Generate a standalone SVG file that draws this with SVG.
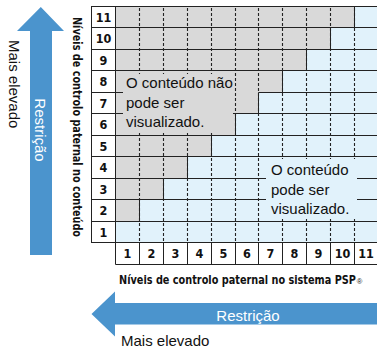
<svg xmlns="http://www.w3.org/2000/svg" width="377" height="348" viewBox="0 0 377 348">
<style>
.arrow{fill:#4b94cd}
.gray{fill:#d9d9d9}
.blue{fill:#e1f2fb}
.solid{stroke:#222;stroke-width:1;fill:none}
.dash{stroke:#222;stroke-width:1.1;stroke-dasharray:3 2;fill:none}
.num{font-family:"Liberation Sans Narrow","DejaVu Sans Condensed","Liberation Sans",sans-serif;font-weight:bold;font-size:12.5px;fill:#111;text-anchor:middle}
.lbl{font-family:"Liberation Sans Narrow","DejaVu Sans Condensed","Liberation Sans",sans-serif;font-weight:bold;font-size:11.5px;fill:#111}
.txt{font-family:"Liberation Sans",Arial,sans-serif;font-size:15px;fill:#111}
.wtxt{font-family:"Liberation Sans",Arial,sans-serif;font-size:15px;fill:#fff}
</style>

<g id="arrow-left">
<polygon class="arrow" points="40.8,7 64,31 52,31 52,255 30,255 30,31 17,31"/>
<text class="wtxt" transform="translate(35,130) rotate(90)" text-anchor="middle">Restrição</text>
<text class="txt" transform="translate(9,40) rotate(90)">Mais elevado</text>
</g>

<g id="axis-label-y">
<text class="lbl" transform="translate(72.5,127) rotate(90)" text-anchor="middle" textLength="220" lengthAdjust="spacingAndGlyphs">Níveis de controlo paternal no conteúdo</text>
</g>

<g id="grid">
<rect class="blue" x="115.5" y="6.5" width="262" height="236"/>
<polygon class="gray" points="115.5,6.5 354.5,6.5 354.5,27.5 330.5,27.5 330.5,49.5 306.5,49.5 306.5,70.5 282.5,70.5 282.5,92.5 258.5,92.5 258.5,113.5 235.5,113.5 235.5,135.5 211.5,135.5 211.5,156.5 187.5,156.5 187.5,178.5 163.5,178.5 163.5,199.5 139.5,199.5 139.5,221.5 115.5,221.5"/>
<rect x="91" y="6.5" width="24.5" height="236" fill="#fff"/>
<rect x="115.5" y="242.5" width="262" height="21.5" fill="#fff"/>

<g id="dashed-lines">
<line class="dash" x1="139.5" y1="8" x2="139.5" y2="242.5"/>
<line class="dash" x1="163.5" y1="8" x2="163.5" y2="242.5"/>
<line class="dash" x1="187.5" y1="8" x2="187.5" y2="242.5"/>
<line class="dash" x1="211.5" y1="8" x2="211.5" y2="242.5"/>
<line class="dash" x1="235.5" y1="8" x2="235.5" y2="242.5"/>
<line class="dash" x1="258.5" y1="8" x2="258.5" y2="242.5"/>
<line class="dash" x1="282.5" y1="8" x2="282.5" y2="242.5"/>
<line class="dash" x1="306.5" y1="8" x2="306.5" y2="242.5"/>
<line class="dash" x1="330.5" y1="8" x2="330.5" y2="242.5"/>
<line class="dash" x1="354.5" y1="8" x2="354.5" y2="242.5"/>
</g>

<g id="solid-lines">
<path class="solid" d="M91,6.5H377M91,27.5H377M91,49.5H377M91,70.5H377M91,92.5H123M258.5,92.5H377M91,113.5H123M233,113.5H377M91,135.5H377M91,156.5H377M91,178.5H377M91,199.5H377M91,221.5H377M91,242.5H377M115.5,264.5H377"/>
<path class="solid" d="M91.5,6.5V242.5M115.5,6.5V264.5"/>
<path class="solid" d="M354.5,6.5V27.5M330.5,27.5V49.5M306.5,49.5V70.5M282.5,70.5V92.5M258.5,92.5V113.5M235.5,113.5V135.5M211.5,135.5V156.5M187.5,156.5V178.5M163.5,178.5V199.5M139.5,199.5V221.5"/>
<path class="solid" d="M139.5,242.5V264.5M163.5,242.5V264.5M187.5,242.5V264.5M211.5,242.5V264.5M235.5,242.5V264.5M258.5,242.5V264.5M282.5,242.5V264.5M306.5,242.5V264.5M330.5,242.5V264.5M354.5,242.5V264.5"/>
</g>

<g id="row-labels">
<text class="num" x="103.5" y="21.5">11</text>
<text class="num" x="103.5" y="43">10</text>
<text class="num" x="103.5" y="64.5">9</text>
<text class="num" x="103.5" y="86">8</text>
<text class="num" x="103.5" y="107.5">7</text>
<text class="num" x="103.5" y="129">6</text>
<text class="num" x="103.5" y="150.5">5</text>
<text class="num" x="103.5" y="172">4</text>
<text class="num" x="103.5" y="193.5">3</text>
<text class="num" x="103.5" y="215">2</text>
<text class="num" x="103.5" y="236.5">1</text>
</g>

<g id="column-labels">
<text class="num" x="127.5" y="258">1</text>
<text class="num" x="151.5" y="258">2</text>
<text class="num" x="175.5" y="258">3</text>
<text class="num" x="199.5" y="258">4</text>
<text class="num" x="223.5" y="258">5</text>
<text class="num" x="247" y="258">6</text>
<text class="num" x="270.5" y="258">7</text>
<text class="num" x="294.5" y="258">8</text>
<text class="num" x="318.5" y="258">9</text>
<text class="num" x="342.5" y="258">10</text>
<text class="num" x="366" y="258">11</text>
</g>
</g>

<g id="label-blocked">
<rect class="gray" x="123" y="74" width="110" height="57"/>
<text class="txt" x="126" y="88">O conteúdo não</text>
<text class="txt" x="126" y="107.5">pode ser</text>
<text class="txt" x="126" y="127">visualizado.</text>
</g>

<g id="label-allowed">
<rect class="blue" x="266" y="159" width="91" height="60"/>
<text class="txt" x="271" y="175">O conteúdo</text>
<text class="txt" x="271" y="194.5">pode ser</text>
<text class="txt" x="271" y="214">visualizado.</text>
</g>

<g id="axis-label-x">
<text class="lbl" transform="translate(119,284) scale(0.94,1)">Níveis de controlo paternal no sistema PSP<tspan font-size="8" font-weight="normal" font-family="Liberation Sans,sans-serif" dx="1">®</tspan></text>
</g>

<g id="arrow-bottom">
<polygon class="arrow" points="91.5,314 115,291.5 115,303 377,303 377,324.5 115,324.5 115,336.5"/>
<text class="wtxt" x="248" y="320.5" text-anchor="middle">Restrição</text>
<text class="txt" x="121" y="346">Mais elevado</text>
</g>
</svg>
